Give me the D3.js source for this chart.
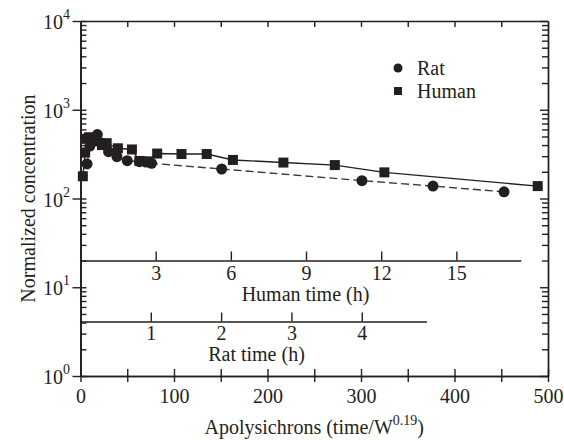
<!DOCTYPE html>
<html><head><meta charset="utf-8">
<script src="https://cdn.jsdelivr.net/npm/d3@7"></script>
<style>
body{margin:0;background:#fff}
text{font-family:"Liberation Serif","Times New Roman",serif;fill:#231f20}
</style>
</head><body>
<svg id="c" width="564" height="440"></svg>
<script>
// ---- data (apolysichrons, normalized concentration) ----
const humanTime = [2.5, 5, 6.5, 9, 12, 15, 23, 28, 40, 55, 63, 73, 82, 108, 135, 163, 217, 272, 325, 489];
const humanConc = [178, 330, 470, 490, 470, 440, 400, 420, 368, 357, 265, 262, 321, 317, 317, 272, 254, 238, 197, 138];
const ratTime = [7, 10, 14, 18, 23, 30, 39, 50, 63, 70, 76, 151, 301, 377, 453];
const ratConc = [245, 390, 450, 525, 420, 337, 296, 267, 260, 257, 249, 215, 159, 138, 119];
const xTicks = [0, 50, 100, 150, 200, 250, 300, 350, 400, 450, 500];
const yMajor = [1, 10, 100, 1000, 10000];
const humanHourTicks = [3, 6, 9, 12, 15];
const ratHourTicks = [1, 2, 3, 4];
const humanUnitsPerHour = 26.8;  // apolysichrons per human hour
const ratUnitsPerHour = 75.2;    // apolysichrons per rat hour
const humanAxisEnd = 471, ratAxisEnd = 370;
const legendItems = ["Rat", "Human"];

const ink = "#231f20";
const FS = 20;
const svg = d3.select("#c");
const L = 80.5, R = 548, T = 21, B = 376;
const x = d3.scaleLinear([0, 500], [L, R]);
const y = d3.scaleLog([1, 1e4], [B, T]);
const minors = [];
for (let e = 0; e < 4; e++) for (let k = 2; k <= 9; k++) minors.push(k * Math.pow(10, e));

function styleAxis(g) {
  g.selectAll("path,line").attr("stroke", ink).attr("stroke-width", 1.4);
  g.selectAll("text").attr("font-family", null).attr("font-size", FS).attr("fill", ink);
  g.attr("font-family", null);
}

// bottom axis (ticks crossing)
svg.append("g").attr("transform", `translate(0,${B})`)
  .call(d3.axisBottom(x).tickValues(xTicks).tickSize(6).tickSizeOuter(0).tickPadding(7)
    .tickFormat(d => d % 100 === 0 ? d : ""))
  .call(styleAxis);
svg.append("g").attr("transform", `translate(0,${B})`)
  .call(d3.axisBottom(x).tickValues(xTicks).tickSize(-7).tickSizeOuter(0).tickFormat(""))
  .call(styleAxis);
// top axis
svg.append("g").attr("transform", `translate(0,${T})`)
  .call(d3.axisTop(x).tickValues(xTicks.slice(1, -1)).tickSize(-6).tickSizeOuter(0).tickFormat(""))
  .call(styleAxis);
// left axis
svg.append("g").attr("transform", `translate(${L},0)`)
  .call(d3.axisLeft(y).tickValues(minors).tickSize(-6).tickSizeOuter(0).tickFormat(""))
  .call(styleAxis);
svg.append("g").attr("transform", `translate(${L},0)`)
  .call(d3.axisLeft(y).tickValues(yMajor).tickSize(8).tickSizeOuter(0).tickFormat(""))
  .call(styleAxis);
svg.append("g").attr("transform", `translate(${L},0)`)
  .call(d3.axisLeft(y).tickValues(yMajor).tickSize(-6).tickSizeOuter(0).tickFormat(""))
  .call(styleAxis);
// right axis
svg.append("g").attr("transform", `translate(${R},0)`)
  .call(d3.axisRight(y).tickValues(minors).tickSize(-6).tickSizeOuter(0).tickFormat(""))
  .call(styleAxis);
svg.append("g").attr("transform", `translate(${R},0)`)
  .call(d3.axisRight(y).tickValues(yMajor).tickSize(-8).tickSizeOuter(0).tickFormat(""))
  .call(styleAxis);

// y tick labels with superscripts
const yl = svg.append("g");
yMajor.forEach(v => {
  const t = yl.append("text").attr("x", 70).attr("y", y(v) + 8).attr("text-anchor", "end").attr("font-size", FS);
  t.append("tspan").text("10");
  t.append("tspan").attr("font-size", 14).attr("dy", -10).text(Math.round(Math.log10(v)));
});

// human time axis
const hx = d3.scaleLinear([0, humanAxisEnd / humanUnitsPerHour], [x(0), x(humanAxisEnd)]);
svg.append("g").attr("transform", "translate(0,260.5)")
  .call(d3.axisBottom(hx).tickValues(humanHourTicks).tickSize(-9).tickSizeOuter(0).tickPadding(5.6)
    .tickFormat(d3.format("d")))
  .call(styleAxis);
svg.append("text").attr("x", 305.5).attr("y", 301).attr("text-anchor", "middle").attr("font-size", FS).text("Human time (h)");

// rat time axis
const rx = d3.scaleLinear([0, ratAxisEnd / ratUnitsPerHour], [x(0), x(ratAxisEnd)]);
svg.append("g").attr("transform", "translate(0,321.5)")
  .call(d3.axisBottom(rx).tickValues(ratHourTicks).tickSize(-9).tickSizeOuter(0).tickPadding(4.3)
    .tickFormat(d3.format("d")))
  .call(styleAxis);
svg.append("text").attr("x", 256.5).attr("y", 361).attr("text-anchor", "middle").attr("font-size", FS).text("Rat time (h)");

// titles
const xt = svg.append("text").attr("x", (L + R) / 2).attr("y", 434).attr("text-anchor", "middle").attr("font-size", FS);
xt.append("tspan").text("Apolysichrons (time/W");
xt.append("tspan").attr("font-size", 14).attr("dy", -9).text("0.19");
xt.append("tspan").attr("dy", 9).text(")");
svg.append("text").attr("transform", `translate(35,${(T + B) / 2}) rotate(-90)`)
  .attr("text-anchor", "middle").attr("font-size", FS).text("Normalized concentration");

// lines
const human = humanTime.map((t, i) => [t, humanConc[i]]);
const rat = ratTime.map((t, i) => [t, ratConc[i]]);
const line = d3.line().x(d => x(d[0])).y(d => y(d[1]));
svg.append("path").attr("d", line(rat)).attr("fill", "none").attr("stroke", "#3a3a3a")
  .attr("stroke-width", 1.4).attr("stroke-dasharray", "8,4");
svg.append("path").attr("d", line(human)).attr("fill", "none").attr("stroke", ink).attr("stroke-width", 1.4);

// markers
svg.append("g").selectAll("circle").data(rat).join("circle")
  .attr("cx", d => x(d[0])).attr("cy", d => y(d[1])).attr("r", 5.5).attr("fill", ink);
svg.append("g").selectAll("rect").data(human).join("rect")
  .attr("x", d => x(d[0]) - 5).attr("y", d => y(d[1]) - 5).attr("width", 10).attr("height", 10).attr("fill", ink);

// legend
const lg = svg.append("g");
lg.append("circle").attr("cx", 398).attr("cy", 68).attr("r", 4.5).attr("fill", ink);
lg.append("text").attr("x", 417).attr("y", 75).attr("font-size", FS).text(legendItems[0]);
lg.append("rect").attr("x", 394).attr("y", 87).attr("width", 8).attr("height", 8).attr("fill", ink);
lg.append("text").attr("x", 417).attr("y", 98).attr("font-size", FS).text(legendItems[1]);
</script>
</body></html>
